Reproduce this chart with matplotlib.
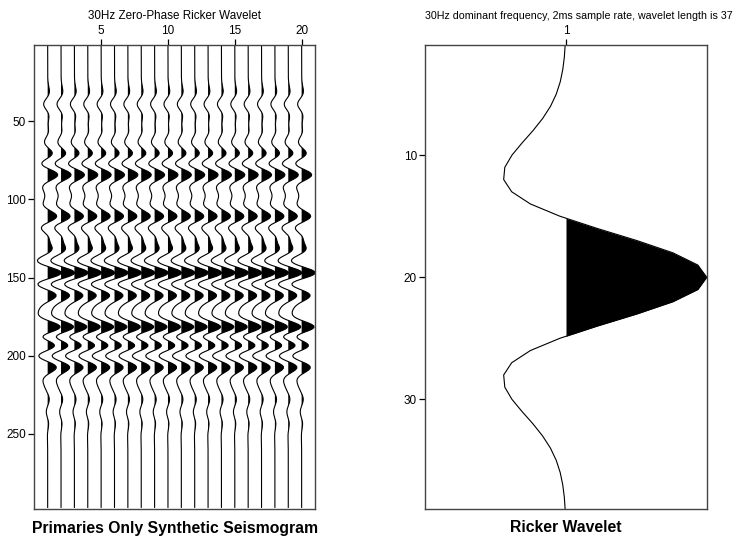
import numpy as np
import matplotlib
matplotlib.use('Agg')
import matplotlib.pyplot as plt

plt.rcParams['font.family'] = ['Liberation Sans', 'DejaVu Sans']

# Ricker wavelet samples (index 1..39, peak at 20)
wavelet = [-0.006, -0.012, -0.023, -0.041, -0.069, -0.110, -0.166, -0.235, -0.312, -0.384,
           -0.435, -0.443, -0.386, -0.253, -0.044, 0.221, 0.505, 0.760, 0.937, 1.000,
           0.937, 0.760, 0.505, 0.221, -0.044, -0.253, -0.386, -0.443, -0.435, -0.384,
           -0.312, -0.235, -0.166, -0.110, -0.069, -0.041, -0.023, -0.012, -0.006]

# Primary reflections (sample index, amplitude)
reflect_samples = [39, 57, 71, 84, 111, 124, 132, 147, 161, 182, 193, 207, 220, 228, 236, 243]
reflect_amps = [-0.30, 0.10, 0.48, 0.83, 0.75, 0.45, 0.60, 1.14, 0.75, 1.22, 0.96, 0.73,
                -0.08, 0.06, -0.06, 0.05]

n_traces = 20
n_samples = 297
trace_ticks = [5, 10, 15, 20]
time_ticks = [50, 100, 150, 200, 250]
wavelet_ticks = [10, 20, 30]

W, H = 736, 542
fig = plt.figure(figsize=(W / 100, H / 100), dpi=100)


def frac(x0, y0, x1, y1):
    return [x0 / W, 1 - y1 / H, (x1 - x0) / W, (y1 - y0) / H]


refl = np.zeros(n_samples)
for s, a in zip(reflect_samples, reflect_amps):
    refl[s - 1] = a
trace = np.convolve(refl, np.array(wavelet), mode='same')
t = np.arange(1, n_samples + 1)

ax1 = fig.add_axes(frac(34.3, 45.2, 315.0, 508.6))
for k in range(1, n_traces + 1):
    ax1.plot(k + trace, t, color='black', lw=0.8)
    ax1.fill_betweenx(t, k, k + trace, where=trace > 0, interpolate=True,
                      color='black', lw=0)
ax1.set_xlim(0, n_traces + 1)
ax1.set_ylim(297.8, 1.3)

ax2 = fig.add_axes(frac(425.3, 45.2, 706.7, 509.3))
w = np.array(wavelet)
tw = np.arange(1, len(wavelet) + 1)
ax2.plot(1 + w, tw, color='black', lw=0.8)
ax2.fill_betweenx(tw, 1, 1 + w, where=w > 0, interpolate=True, color='black', lw=0)
ax2.set_xlim(0, 2)
ax2.set_ylim(39, 1)

for ax, xt, yt in [(ax1, trace_ticks, time_ticks), (ax2, [1], wavelet_ticks)]:
    ax.set_xticks(xt)
    ax.set_yticks(yt)
    ax.xaxis.tick_top()
    ax.tick_params(axis='both', direction='out', length=4.5, width=0.9,
                   labelsize=8.5, pad=1.5, colors='black')
    for sp in ax.spines.values():
        sp.set_color('#444444')
        sp.set_linewidth(1.0)

fig.text(174.6 / W, 1 - 16 / H, '30Hz Zero-Phase Ricker Wavelet', ha='center', va='center',
         fontsize=8.4)
fig.text(579.0 / W, 1 - 16 / H,
         '30Hz dominant frequency, 2ms sample rate, wavelet length is 37',
         ha='center', va='center', fontsize=7.7)
fig.text(174.6 / W, 1 - 528 / H, 'Primaries Only Synthetic Seismogram', ha='center',
         va='center', fontsize=11.3, fontweight='bold')
fig.text(566.0 / W, 1 - 528 / H, 'Ricker Wavelet', ha='center', va='center', fontsize=11.3,
         fontweight='bold')

fig.savefig('out.png', dpi=100)
